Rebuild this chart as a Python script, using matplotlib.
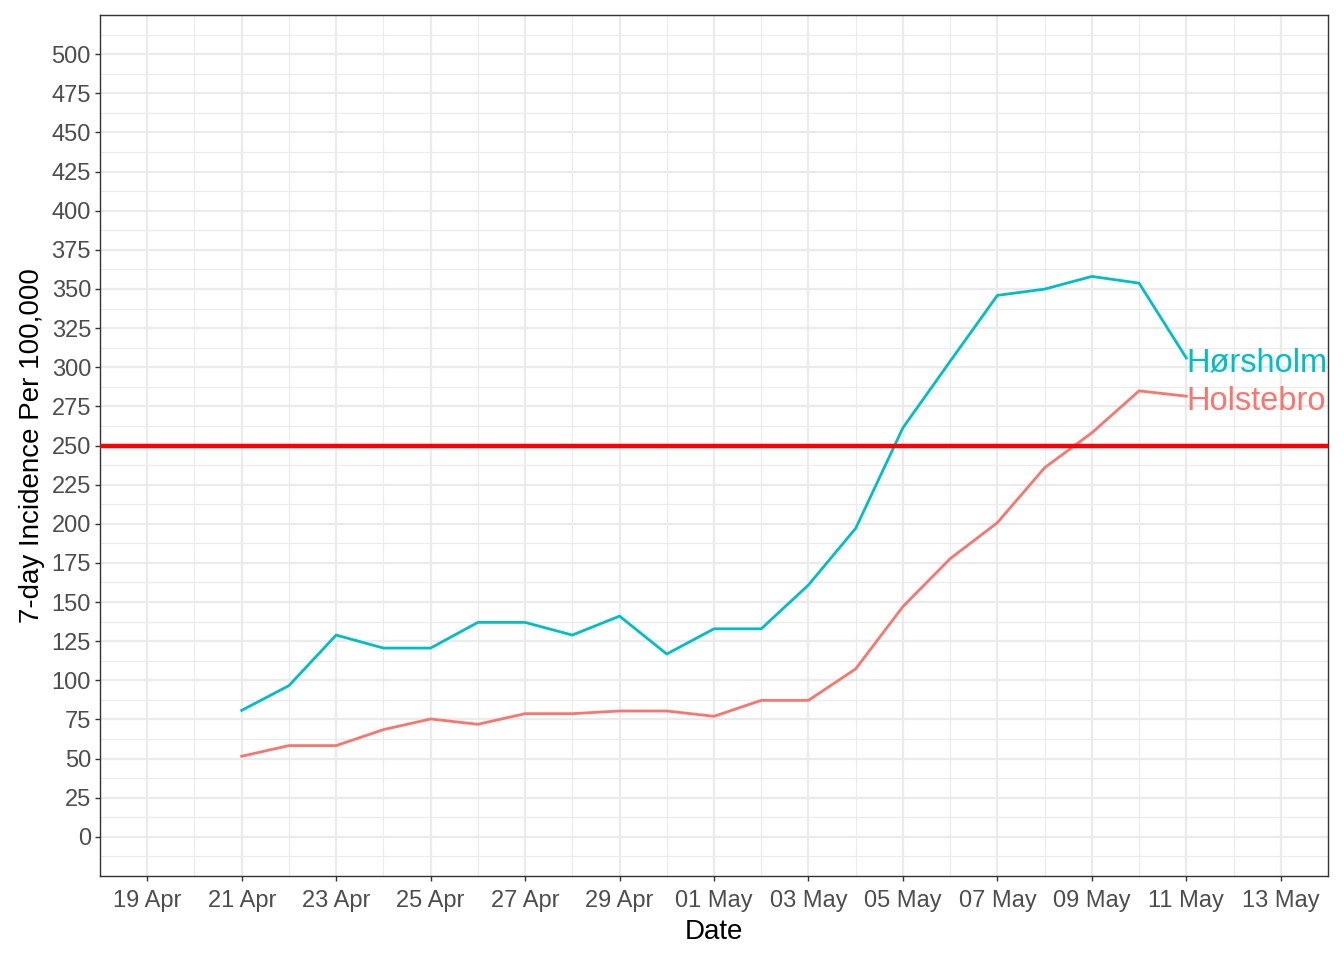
import datetime as dt

import matplotlib
matplotlib.use("Agg")
import matplotlib.pyplot as plt
import matplotlib.dates as mdates
from matplotlib.ticker import MultipleLocator

plt.rcParams["font.family"] = ["Liberation Sans", "DejaVu Sans"]

# data: 7-day incidence per 100,000, 21 Apr - 11 May 2021
dates = [dt.date(2021, 4, 21) + dt.timedelta(days=i) for i in range(21)]
horsholm = [80.8, 96.6, 128.9, 120.6, 120.6, 137.0, 137.0, 128.9, 141.0, 116.8,
            132.9, 132.9, 160.9, 197.1, 261.3, 303.8, 345.9, 349.9, 358.0, 353.7,
            305.9]
holstebro = [51.5, 58.3, 58.3, 68.5, 75.3, 71.9, 78.7, 78.7, 80.4, 80.4,
             77.0, 87.2, 87.2, 107.3, 147.1, 177.7, 200.7, 235.8, 258.1, 284.9,
             281.5]
threshold = 250

series = [("Hørsholm", horsholm, "#00BFC4"), ("Holstebro", holstebro, "#F8766D")]

fig, ax = plt.subplots(figsize=(13.44, 9.6), dpi=100)
fig.subplots_adjust(left=100 / 1344, right=1328 / 1344, bottom=1 - 876 / 960, top=1 - 15 / 960)

for name, vals, col in series:
    ax.plot(dates, vals, color=col, lw=2.0, zorder=3)
    # label at the end of each line
    ax.annotate(name, (dates[-1], vals[-1]), xytext=(0, -3.5), textcoords="offset points",
                color=col, fontsize=23.5, ha="left", va="center", zorder=4,
                annotation_clip=False)

ax.axhline(threshold, color="#FF0000", lw=3.2, zorder=5)

ax.set_xlim(dt.date(2021, 4, 18), dt.date(2021, 5, 14))
ax.set_ylim(-25, 525)

ax.xaxis.set_major_locator(mdates.DayLocator(bymonthday=[19, 21, 23, 25, 27, 29, 1, 3, 5, 7, 9, 11, 13]))
ax.xaxis.set_minor_locator(mdates.DayLocator())
ax.xaxis.set_major_formatter(mdates.DateFormatter("%d %b"))
ax.yaxis.set_major_locator(MultipleLocator(25))
ax.yaxis.set_minor_locator(MultipleLocator(12.5))
ax.set_yticks(range(0, 501, 25))

ax.grid(which="major", color="#EBEBEB", lw=1.6, zorder=0)
ax.grid(which="minor", color="#EBEBEB", lw=0.8, zorder=0)
ax.set_axisbelow(True)

ax.tick_params(which="major", length=3.5, width=1.0, color="#333333",
               labelsize=17, labelcolor="#4D4D4D")
ax.tick_params(axis="x", which="major", pad=6.5)
ax.tick_params(axis="y", which="major", pad=3)
ax.tick_params(which="minor", length=0)

for sp in ax.spines.values():
    sp.set_color("#333333")
    sp.set_linewidth(1.0)

ax.set_xlabel("Date", fontsize=20, color="black", labelpad=5)
ax.set_ylabel("7-day Incidence Per 100,000", fontsize=20, color="black", labelpad=5)

fig.savefig("out.png", dpi=100)
